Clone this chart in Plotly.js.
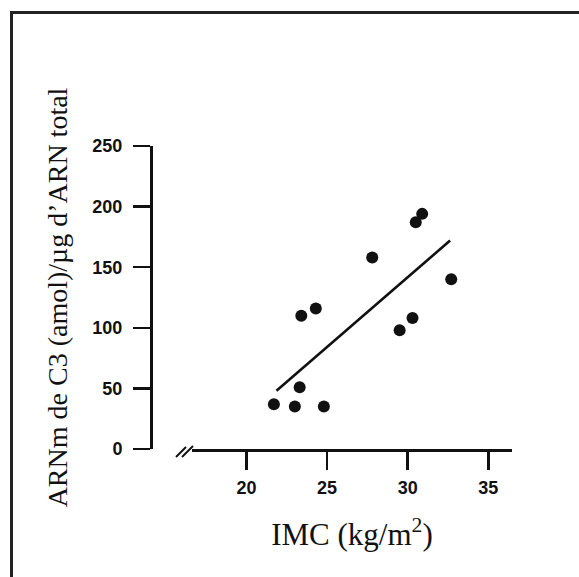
<!DOCTYPE html>
<html>
<head>
<meta charset="utf-8">
<script src="https://cdn.plot.ly/plotly-3.0.1.min.js"></script>
<style>html,body{margin:0;padding:0;background:#fff;}#chart{width:579px;height:577px;}</style>
</head>
<body>
<div id="chart"></div>
<script>
// Data
var imc = [21.7, 23.0, 24.8, 23.3, 23.4, 24.3, 27.8, 29.5, 30.3, 30.5, 30.9, 32.7];
var arnm = [37, 35, 35, 51, 110, 116, 158, 98, 108, 187, 194, 140];
var fitX = [21.86, 32.63];
var fitY = [48, 172];
var xTicks = [20, 25, 30, 35];
var yTicks = [0, 50, 100, 150, 200, 250];
var xTitle = 'IMC (kg/m<sup>2</sup>)';
var yTitle = 'ARNm de C3 (amol)/µg d\u2019ARN total';

// Layout geometry (pixels)
var W = 579, H = 577;
var L = 100, R = 67, T = 146, B = 128;
var pw = W - L - R, ph = H - T - B;
function px(x) { return (x - L) / pw; }
function py(y) { return (H - B - y) / ph; }

var ink = '#111';
var traces = [
  { x: imc, y: arnm, type: 'scatter', mode: 'markers',
    marker: { color: ink, size: 12 }, cliponaxis: false, showlegend: false },
  { x: fitX, y: fitY, type: 'scatter', mode: 'lines',
    line: { color: ink, width: 2.6 }, cliponaxis: false, showlegend: false }
];

var layout = {
  width: W, height: H,
  margin: { l: L, r: R, t: T, b: B, pad: 0 },
  paper_bgcolor: '#fff', plot_bgcolor: 'rgba(0,0,0,0)',
  showlegend: false,
  xaxis: {
    domain: [px(192), 1], range: [16.62, 36.47],
    tickvals: xTicks, ticktext: xTicks.map(String),
    ticks: 'outside', ticklen: 18, tickwidth: 2.5, tickcolor: ink,
    showline: true, linecolor: ink, linewidth: 2.8,
    showgrid: false, zeroline: false,
    tickfont: { family: 'Liberation Sans, Arial, sans-serif', size: 18, weight: 'bold', color: ink },
    ticklabelstandoff: 3,
    title: { text: xTitle, standoff: 26,
      font: { family: 'Liberation Serif, Times New Roman, serif', size: 31, color: ink } },
    automargin: false, fixedrange: true
  },
  yaxis: {
    anchor: 'free', position: px(151), range: [0, 250],
    tickvals: yTicks, ticktext: yTicks.map(String),
    ticks: 'outside', ticklen: 17, tickwidth: 2.5, tickcolor: ink,
    showline: true, linecolor: ink, linewidth: 2.8,
    showgrid: false, zeroline: false,
    tickfont: { family: 'Liberation Sans, Arial, sans-serif', size: 18, weight: 'bold', color: ink },
    ticklabelstandoff: 7,
    title: { text: yTitle, standoff: 15,
      font: { family: 'Liberation Serif, Times New Roman, serif', size: 28, color: ink } },
    automargin: false, fixedrange: true
  },
  shapes: [
    // frame
    { type: 'line', xref: 'paper', yref: 'paper', x0: px(10), x1: px(579), y0: py(12.5), y1: py(12.5),
      line: { color: '#222', width: 3 } },
    { type: 'line', xref: 'paper', yref: 'paper', x0: px(11.5), x1: px(11.5), y0: py(11), y1: py(577),
      line: { color: '#222', width: 3 } },
    // axis break marks
    { type: 'line', xref: 'paper', yref: 'paper', x0: px(176), x1: px(186), y0: py(457), y1: py(447),
      line: { color: ink, width: 2 } },
    { type: 'line', xref: 'paper', yref: 'paper', x0: px(182), x1: px(193), y0: py(457), y1: py(446),
      line: { color: ink, width: 2 } }
  ]
};

Plotly.newPlot('chart', traces, layout, { staticPlot: true, displayModeBar: false });
</script>
</body>
</html>
